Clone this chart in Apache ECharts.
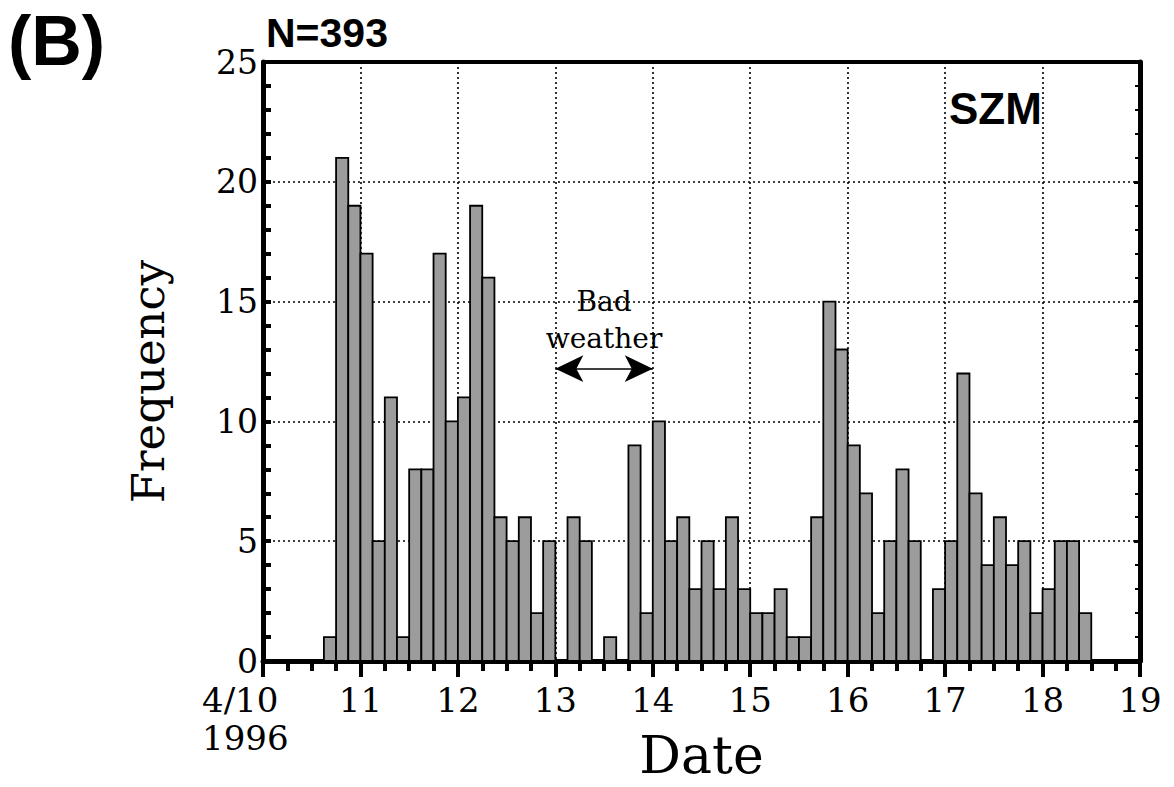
<!DOCTYPE html>
<html>
<head>
<meta charset="utf-8">
<script src="https://cdn.jsdelivr.net/npm/echarts@6/dist/echarts.min.js"></script>
<style>
html,body{margin:0;padding:0;background:#fff;}
#chart{width:1174px;height:787px;}
</style>
</head>
<body>
<div id="chart"></div>
<script>
// ---- data ----
const startDay = 10;          // 4/10 1996
const binsPerDay = 8;         // 3-hour bins
// counts per 3-hour bin, starting 4/10 00:00
const counts = [
  0,0,0,0,0,1,21,19,
  17,5,11,1,8,8,17,10,
  11,19,16,6,5,6,2,5,
  0,6,5,0,1,0,9,2,
  10,5,6,3,5,3,6,3,
  2,2,3,1,1,6,15,13,
  9,7,2,5,8,5,0,3,
  5,12,7,4,6,4,5,2,
  3,5,5,2,0,0,0,0
];
const xTicks = [10,11,12,13,14,15,16,17,18,19];
const yTicks = [0,5,10,15,20,25];
const title = '(B)';
const nLabel = 'N=393';
const station = 'SZM';
const note = 'Bad\nweather';
const noteRange = [13, 14];
const noteLevel = 12.2;

const barData = counts.map((c, i) => [startDay + i / binsPerDay, startDay + (i + 1) / binsPerDay, c]).filter(d => d[2] > 0);

const serif = 'DejaVu Serif';

const chart = echarts.init(document.getElementById('chart'), null, {renderer: 'svg'});
const option = {
  animation: false,
  backgroundColor: '#fff',
  grid: {left: 263, right: 34, top: 62, bottom: 126, outerBoundsMode: 'none', containLabel: false},
  xAxis: [{
    type: 'value', min: 10, max: 19, interval: 1, position: 'bottom',
    axisLine: {show: true, onZero: false, lineStyle: {color: '#000', width: 5}},
    axisTick: {show: true, inside: false, length: 16, lineStyle: {color: '#000', width: 4}},
    minorTick: {show: true, splitNumber: 4, length: 10, lineStyle: {color: '#000', width: 4}},
    axisLabel: {margin: 22, color: '#000', fontFamily: serif, fontSize: 34,
      formatter: v => v === 10 ? '' : String(v)},
    splitLine: {show: true, lineStyle: {color: '#000', width: 1.6, type: [2, 3]}},
    name: 'Date', nameLocation: 'middle', nameGap: 72,
    nameTextStyle: {fontFamily: serif, fontSize: 52, color: '#000', lineHeight: 44}
  }, {
    type: 'value', min: 10, max: 19, interval: 1, position: 'top',
    axisLine: {show: true, onZero: false, lineStyle: {color: '#000', width: 4}},
    axisTick: {show: false}, axisLabel: {show: false}, splitLine: {show: false}
  }],
  yAxis: [{
    type: 'value', min: 0, max: 25, interval: 5, position: 'left',
    axisLine: {show: true, onZero: false, lineStyle: {color: '#000', width: 5}},
    axisTick: {show: true, inside: true, length: 8, lineStyle: {color: '#000', width: 4}},
    minorTick: {show: true, splitNumber: 5, length: 8, lineStyle: {color: '#000', width: 4}},
    axisLabel: {margin: 5, color: '#000', fontFamily: serif, fontSize: 33},
    splitLine: {show: true, lineStyle: {color: '#000', width: 1.6, type: [2, 3]}},
    name: 'Frequency', nameLocation: 'middle', nameGap: 92, nameRotate: 90,
    nameTextStyle: {fontFamily: serif, fontSize: 45, color: '#000', padding: [0, 40, 0, 0]}
  }, {
    type: 'value', min: 0, max: 25, interval: 5, position: 'right',
    axisLine: {show: true, onZero: false, lineStyle: {color: '#000', width: 5}},
    axisTick: {show: true, inside: true, length: 6, lineStyle: {color: '#000', width: 3}},
    minorTick: {show: true, splitNumber: 5, length: 5, lineStyle: {color: '#000', width: 2}},
    axisLabel: {show: false}, splitLine: {show: false}
  }],
  series: [{
    type: 'custom',
    xAxisIndex: 0, yAxisIndex: 0,
    data: barData,
    encode: {x: [0, 1], y: 2},
    renderItem: function (params, api) {
      const p0 = api.coord([api.value(0), 0]);
      const p1 = api.coord([api.value(1), api.value(2)]);
      return {
        type: 'rect',
        shape: {x: p0[0], y: p1[1], width: p1[0] - p0[0], height: p0[1] - p1[1]},
        style: {fill: '#9c9c9c', stroke: '#000', lineWidth: 1.8}
      };
    },
    z: 3
  }, {
    type: 'line',
    data: [],
    xAxisIndex: 0, yAxisIndex: 0,
    markLine: {
      silent: true,
      symbol: ['arrow', 'arrow'],
      symbolSize: [20, 28],
      lineStyle: {color: '#000', width: 1.5, type: 'solid'},
      label: {show: true, position: 'middle', formatter: note, fontFamily: serif,
        fontSize: 28, color: '#000', lineHeight: 37, distance: 12},
      data: [[{coord: [noteRange[0], noteLevel]}, {coord: [noteRange[1], noteLevel]}]]
    }
  }],
  graphic: [
    {type: 'text', left: 8, top: 6, style: {text: title, font: 'bold 70px "Liberation Sans"', fill: '#000'}},
    {type: 'text', left: 266, top: 12, style: {text: nLabel, font: 'bold 41px "Liberation Sans"', fill: '#000'}},
    {type: 'text', left: 949, top: 86, style: {text: station, font: 'bold 44px "Liberation Sans"', fill: '#000'}},
    {type: 'text', left: 202, top: 683, style: {text: '4/10', font: '34px "DejaVu Serif"', fill: '#000'}},
    {type: 'text', left: 202, top: 721, style: {text: '1996', font: '34px "DejaVu Serif"', fill: '#000'}}
  ]
};
chart.setOption(option);
</script>
</body>
</html>
